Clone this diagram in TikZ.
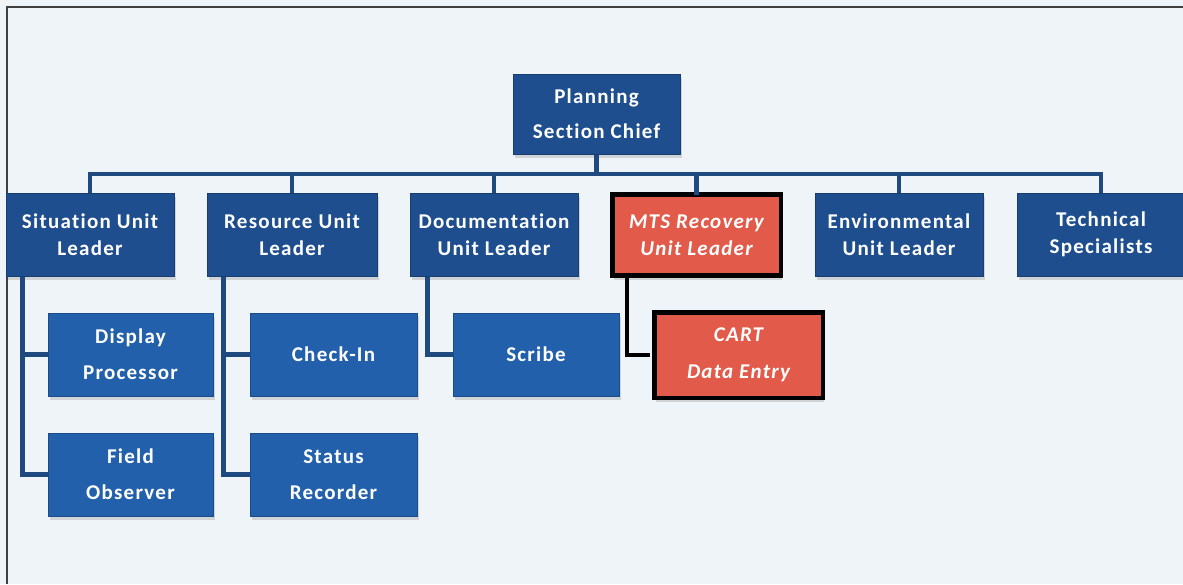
\documentclass[tikz,border=0pt]{standalone}
\usepackage{fontspec}
\setmainfont{Carlito}[LetterSpace=6, Ligatures=NoCommon]
\usetikzlibrary{shadows}
\definecolor{bgc}{HTML}{EEF4F8}
\definecolor{boxA}{HTML}{1E4E8E}
\definecolor{boxAline}{HTML}{173E72}
\definecolor{boxB}{HTML}{2360AC}
\definecolor{boxBline}{HTML}{1B4C8A}
\definecolor{redbox}{HTML}{E25A4A}
\definecolor{connc}{HTML}{1F4A7F}
\tikzset{
  base/.style={font=\fontsize{21}{27}\selectfont\bfseries, text=white, align=center, inner sep=0pt,
    drop shadow={shadow xshift=1.5pt, shadow yshift=-4pt, fill=black!45, opacity=0.3}},
  lvlA/.style={base, fill=boxA, draw=boxAline, line width=1pt, minimum height=83pt},
  lvlB/.style={base, fill=boxB, draw=boxBline, line width=1pt, minimum height=83pt,
    font=\fontsize{21}{36}\selectfont\bfseries},
  redA/.style={base, fill=redbox, draw=black, line width=4.5pt, font=\fontsize{21}{27}\selectfont\bfseries\itshape},
  conn/.style={draw=connc, line width=4.5pt},
  connk/.style={draw=black, line width=4.5pt},
}
\begin{document}
\begin{tikzpicture}[x=1pt,y=-1pt]
\useasboundingbox (0,0) rectangle (1183,584);
\fill[bgc] (0,0) rectangle (1183,584);
\draw[black!75, line width=2pt] (7,584) -- (7,7) -- (1183,7);

\coordinate (bus) at (0,174);

\node[lvlA, minimum width=167pt, minimum height=80pt, font=\fontsize{21}{35}\selectfont\bfseries] (chief) at (596.5,114) {Planning\\Section Chief};

\node[lvlA, minimum width=168pt] (sit) at (90,234.5) {Situation Unit\\Leader};
\node[lvlA, minimum width=170pt] (res) at (292,234.5) {Resource Unit\\Leader};
\node[lvlA, minimum width=168pt] (doc) at (494,234.5) {Documentation\\Unit Leader};
\node[redA, minimum width=168.5pt, minimum height=81pt] (mts) at (696.5,235) {MTS Recovery\\Unit Leader};
\node[lvlA, minimum width=168pt] (env) at (899,234.5) {Environmental\\Unit Leader};
\node[lvlA, minimum width=168pt] (tech) at (1101,234.5) {Technical\\Specialists};

\node[lvlB, minimum width=165pt] (disp) at (130.5,354.5) {Display\\Processor};
\node[lvlB, minimum width=165pt] (field) at (130.5,474.5) {Field\\Observer};
\node[lvlB, minimum width=167pt] (check) at (333.5,354.5) {Check-In};
\node[lvlB, minimum width=167pt] (status) at (333.5,474.5) {Status\\Recorder};
\node[lvlB, minimum width=166pt] (scribe) at (536,354.5) {Scribe};
\node[redA, minimum width=168.5pt, minimum height=85.5pt, font=\fontsize{21}{37}\selectfont\bfseries\itshape] (cart) at (738.5,355) {CART\\Data Entry};

% top tree
\draw[conn] (chief.south) -- (chief.south |- bus);
\draw[conn] (sit.north) |- (tech.north |- bus) -- (tech.north);
\draw[conn] (res.north) -- (res.north |- bus);
\draw[conn] (doc.north) -- (doc.north |- bus);
\draw[conn] ([yshift=-2.25pt]mts.north) -- (mts.north |- bus);
\draw[conn] (env.north) -- (env.north |- bus);

% side trees
\coordinate (sitx) at ([xshift=17pt]sit.south west);
\draw[conn] (sitx) |- (field.west);
\draw[conn] (sitx |- disp.west) -- (disp.west);
\coordinate (resx) at ([xshift=17pt]res.south west);
\draw[conn] (resx) |- (status.west);
\draw[conn] (resx |- check.west) -- (check.west);
\coordinate (docx) at ([xshift=18pt]doc.south west);
\draw[conn] (docx) |- (scribe.west);
\coordinate (mtsx) at ([xshift=17pt,yshift=2.25pt]mts.south west);
\draw[connk] (mtsx) |- ([xshift=-2.25pt]cart.west);
\end{tikzpicture}
\end{document}
